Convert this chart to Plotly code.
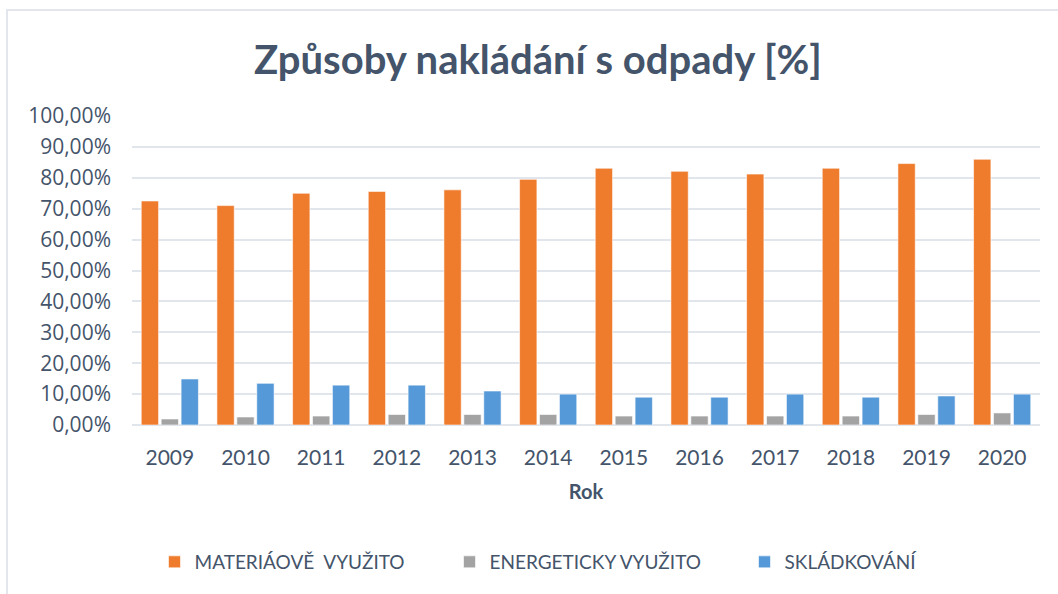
import plotly.graph_objects as go

years = ["2009", "2010", "2011", "2012", "2013", "2014", "2015", "2016", "2017", "2018", "2019", "2020"]
materialove = [72.5, 71.0, 75.0, 75.6, 76.1, 79.5, 83.1, 82.1, 81.2, 83.1, 84.6, 86.0]
energeticky = [1.95, 2.6, 2.9, 3.4, 3.4, 3.4, 2.9, 2.9, 2.9, 2.9, 3.4, 3.9]
skladkovani = [14.9, 13.5, 12.9, 12.9, 11.0, 10.0, 9.0, 9.0, 10.0, 9.0, 9.4, 10.0]
y_ticks = [0, 10, 20, 30, 40, 50, 60, 70, 80, 90, 100]
y_tick_labels = ["0,00%", "10,00%", "20,00%", "30,00%", "40,00%", "50,00%",
                 "60,00%", "70,00%", "80,00%", "90,00%", "100,00%"]

names = ["MATERIÁOVĚ  VYUŽITO", "ENERGETICKY VYUŽITO", "SKLÁDKOVÁNÍ"]
colors = ["#EF7B2C", "#A3A3A3", "#5599D8"]
series = [materialove, energeticky, skladkovani]

TEXT = "#44546A"

fig = go.Figure()
for name, col, vals in zip(names, colors, series):
    fig.add_trace(go.Bar(
        x=years, y=vals, name=name,
        marker=dict(color=col, line=dict(color="rgba(255,255,255,0.6)", width=1)),
    ))

L, R, T, B = 132, 18, 116, 169
W, H = 1058, 594
pw, ph = W - L - R, H - T - B

def px_x(x):
    return (x - L) / pw

def px_y(y):
    return (H - B - y) / ph

fig.update_layout(
    width=W, height=H,
    margin=dict(l=L, r=R, t=T, b=B, autoexpand=False),
    paper_bgcolor="white", plot_bgcolor="white",
    barmode="group", bargap=0.21, bargroupgap=0.13,
    title=dict(text="<b>Způsoby nakládání s odpady [%]</b>",
               x=538 / W, xref="container", xanchor="center",
               y=1 - 60 / H, yref="container", yanchor="middle",
               font=dict(family="Lato", size=40, color=TEXT)),
    font=dict(family="Lato", color=TEXT),
    xaxis=dict(
        automargin=False,
        tickfont=dict(family="Lato", size=21, color=TEXT),
        showgrid=False, showline=False, ticks="", ticklabelstandoff=18,
        title=dict(text="<b>Rok</b>", font=dict(family="Lato", size=20, color=TEXT), standoff=16),
    ),
    yaxis=dict(
        automargin=False,
        range=[0, 100], tickvals=y_ticks, ticktext=y_tick_labels,
        tickfont=dict(family="Open Sans", size=21, color=TEXT),
        showgrid=True, gridcolor="#E1E5EC", gridwidth=2,
        zeroline=True, zerolinecolor="#E1E5EC", zerolinewidth=2,
        ticks="", ticklabelstandoff=20,
    ),
    legend=dict(
        orientation="h", xref="container", x=0.5 + 68 / W, xanchor="center",
        yref="container", y=(H - 562) / H, yanchor="middle",
        font=dict(family="Lato", size=19, color=TEXT),
        entrywidth=250, entrywidthmode="pixels", itemwidth=30,
    ),
    shapes=[dict(type="rect", xref="paper", yref="paper",
                 x0=px_x(7), x1=px_x(1100), y0=px_y(10), y1=px_y(640),
                 line=dict(color="#E3E6EC", width=2), fillcolor="rgba(0,0,0,0)",
                 layer="below")],
)

fig.write_html("out.html", config={"displayModeBar": False},
               post_script="document.body.style.margin='0px';")
